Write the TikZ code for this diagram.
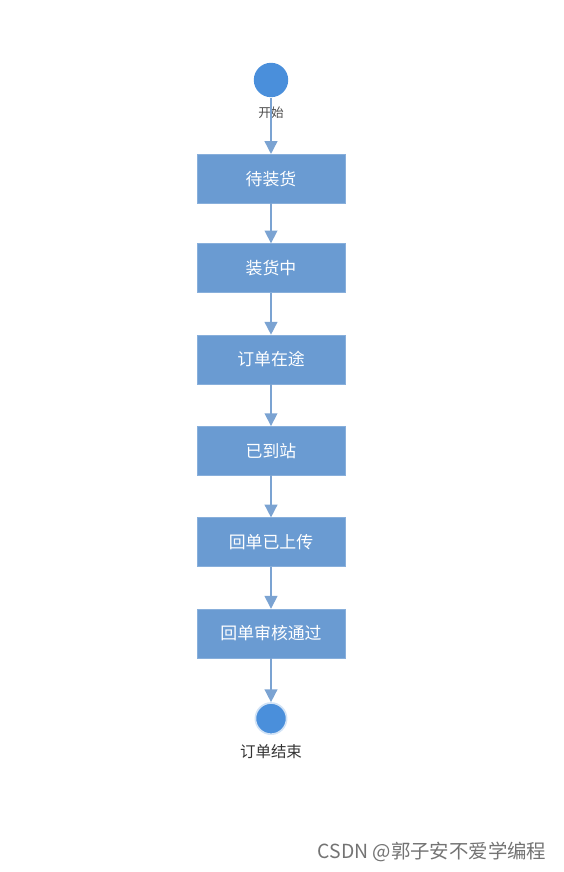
\documentclass[tikz,border=0pt]{standalone}
\usepackage{fontspec}
\setmainfont{Noto Sans CJK SC}
\usetikzlibrary{arrows.meta,positioning}
\definecolor{boxblue}{RGB}{106,155,210}
\definecolor{dotblue}{RGB}{74,143,219}
\definecolor{linkblue}{RGB}{123,163,210}
\begin{document}
\begin{tikzpicture}[line width=1.1pt,>={Triangle[length=3.2mm,width=3.2mm]}]
\tikzset{state/.style={rectangle,fill=boxblue,draw=boxblue!80!white,line width=0.4pt,
  minimum width=3.7cm,minimum height=1.22cm,text=white,font=\fontsize{12}{14}\selectfont},
  link/.style={draw=linkblue,->,color=linkblue}}
\useasboundingbox (0,0) rectangle (14.075,-21.8);
% ---- start ----
\node[circle,fill=dotblue,minimum size=0.86cm,inner sep=0pt] (start) at (6.775,-2.0) {};
% ---- states ----
\node[state,below=1.4cm of start] (wait) {待装货};
\node[state,below=1cm of wait] (load) {装货中};
\node[state,below=1.05cm of load] (transit) {订单在途};
\node[state,below=1.05cm of transit] (arrive) {已到站};
\node[state,below=1.05cm of arrive] (upload) {回单已上传};
\node[state,below=1.05cm of upload] (audit) {回单审核通过};
% ---- end ----
\node[circle,fill=dotblue,draw=dotblue!25!white,line width=1.2pt,minimum size=0.78cm,
  inner sep=0pt,below=1.1cm of audit] (finish) {};
\node[font=\fontsize{9}{10}\selectfont,text=black!70] (startlbl) at (6.775,-2.83) {开始};
\node[below=0.1cm of finish,font=\fontsize{11}{13}\selectfont,text=black!80] (finishlbl) {订单结束};
\draw[link] (start) -- (wait);
\draw[link] (wait) -- (load);
\draw[link] (load) -- (transit);
\draw[link] (transit) -- (arrive);
\draw[link] (arrive) -- (upload);
\draw[link] (upload) -- (audit);
\draw[link] (audit) -- (finish);
% ---- watermark ----
\node[text=black!55,font=\fontsize{13.8}{16}\selectfont] (mark) at (10.8,-21.3) {CSDN @郭子安不爱学编程};
\end{tikzpicture}
\end{document}
